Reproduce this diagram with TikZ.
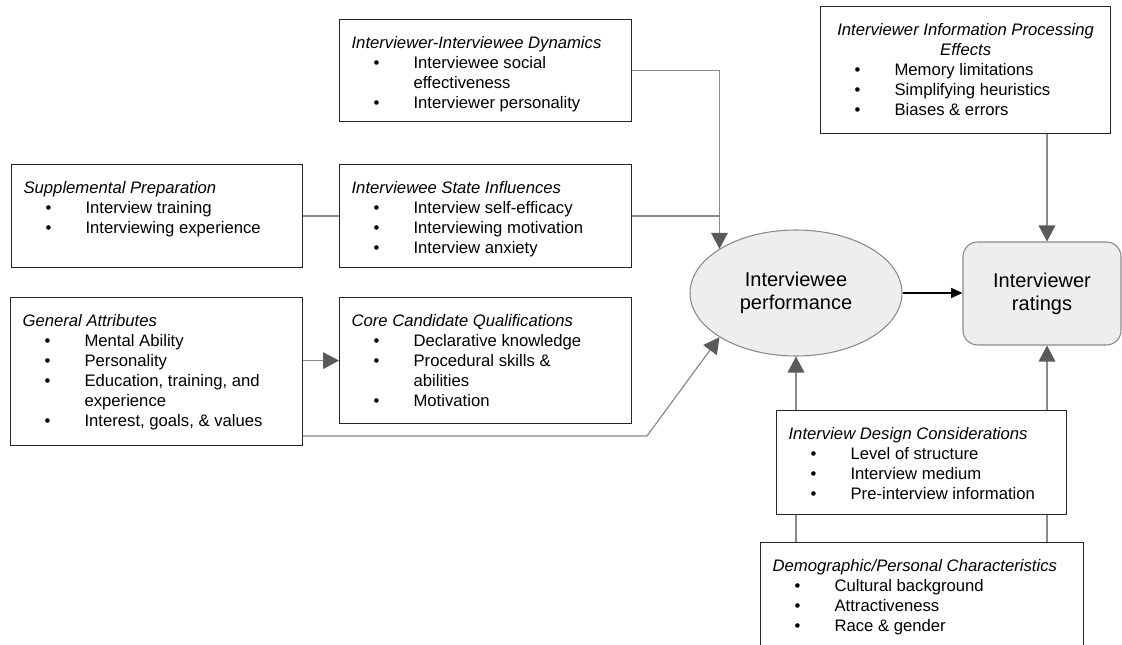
\documentclass[tikz,border=0pt]{standalone}
\usepackage{fontspec}
\setmainfont{Liberation Sans}
\usetikzlibrary{arrows.meta,shapes.geometric}

\definecolor{linegray}{HTML}{8A8A8A}
\definecolor{tipgray}{HTML}{5A5A5A}
\definecolor{shade}{HTML}{EEEEEE}
\definecolor{boxline}{HTML}{262626}

\newcommand{\boxbody}[3]{\parbox[c][#2][t]{#1}{\raggedright #3}}
\newcommand{\boxhead}[1]{\rule{0pt}{21.75pt}\textit{#1}\par}
\newcommand{\itm}[1]{\hangindent=46.5pt\hangafter=1\noindent\hspace*{16.5pt}\makebox[30pt][l]{\textbullet}#1\par}

\tikzset{
	infobox/.style={draw=boxline, line width=0.9pt, anchor=north west, inner xsep=9pt, inner ysep=0pt, font=\fontsize{12.5pt}{15pt}\selectfont},
	link/.style={draw=linegray, line width=0.9pt},
	arr/.style={link, -{Triangle[length=12pt, width=12.5pt, color=tipgray]}},
	outcome/.style={fill=shade, draw=linegray, line width=0.8pt, font=\fontsize{15pt}{17.5pt}\selectfont, align=center, inner sep=0pt}
}

\begin{document}
\begin{tikzpicture}[x=0.75pt, y=-0.75pt]
		\useasboundingbox (0,0) rectangle (1122,645);
		\coordinate (rx) at (1047,0);
		\coordinate (bend) at (647,436);
		
		\node[infobox] (dyn) at (339,19) {\boxbody{201pt}{76.5pt}{%
			\boxhead{Interviewer-Interviewee Dynamics}
			\itm{Interviewee social\newline effectiveness}
			\itm{Interviewer personality}}};
		\node[infobox] (supp) at (11,164) {\boxbody{200.25pt}{77.25pt}{%
			\boxhead{Supplemental Preparation}
			\itm{Interview training}
			\itm{Interviewing experience}}};
		\node[infobox] (state) at (339,164) {\boxbody{201pt}{77.25pt}{%
			\boxhead{Interviewee State Influences}
			\itm{Interview self-efficacy}
			\itm{Interviewing motivation}
			\itm{Interview anxiety}}};
		\node[infobox] (gen) at (10,297) {\boxbody{201pt}{111pt}{%
			\boxhead{General Attributes}
			\itm{Mental Ability}
			\itm{Personality}
			\itm{Education, training, and\newline experience}
			\itm{Interest, goals, \& values}}};
		\node[infobox] (core) at (339,297) {\boxbody{201pt}{94.5pt}{%
			\boxhead{Core Candidate Qualifications}
			\itm{Declarative knowledge}
			\itm{Procedural skills \&\newline abilities}
			\itm{Motivation}}};
		\node[infobox] (proc) at (820,6) {\boxbody{199.5pt}{95.25pt}{%
			{\centering\rule{0pt}{21.75pt}\makebox[0pt]{\textit{Interviewer Information Processing}}\\\textit{Effects}\par}
			\itm{Memory limitations}
			\itm{Simplifying heuristics}
			\itm{Biases \& errors}}};
		\node[infobox] (design) at (776,410) {\boxbody{199.5pt}{78pt}{%
			\boxhead{Interview Design Considerations}
			\itm{Level of structure}
			\itm{Interview medium}
			\itm{Pre-interview information}}};
		\node[infobox] (demo) at (760,542) {\boxbody{224.25pt}{90pt}{%
			\boxhead{Demographic/Personal Characteristics}
			\itm{Cultural background}
			\itm{Attractiveness}
			\itm{Race \& gender}}};
		
		\node[outcome, ellipse, minimum width=159pt, minimum height=94.5pt] (perf) at (796,293) {Interviewee\\performance};
		\node[outcome, rounded corners=11pt, minimum width=118.5pt, minimum height=77.25pt] (rate) at (1042,293.5) {Interviewer\\ratings};
		
		\draw[link] (supp.east) -- (state.west);
		\draw[arr] (dyn.east) -| (perf.150);
		\draw[link] (state.east) -- (state.east -| perf.150);
		\draw[arr] (gen.east |- core.west) -- (core.west);
		\draw[arr] (gen.east |- bend) -- (bend) -- (perf.210);
		\draw[arr] (proc.south -| rx) -- (rate.north -| rx);
		\draw[-{Triangle[length=8.5pt, width=7.5pt]}, line width=0.8pt] (perf.east) -- (perf.east -| rate.west);
		\draw[arr] (design.north -| perf.south) -- (perf.south);
		\draw[arr] (design.north -| rx) -- (rate.south -| rx);
		\draw[link] (design.south -| perf.south) -- (demo.north -| perf.south);
		\draw[link] (design.south -| rx) -- (demo.north -| rx);
	\end{tikzpicture}
\end{document}
